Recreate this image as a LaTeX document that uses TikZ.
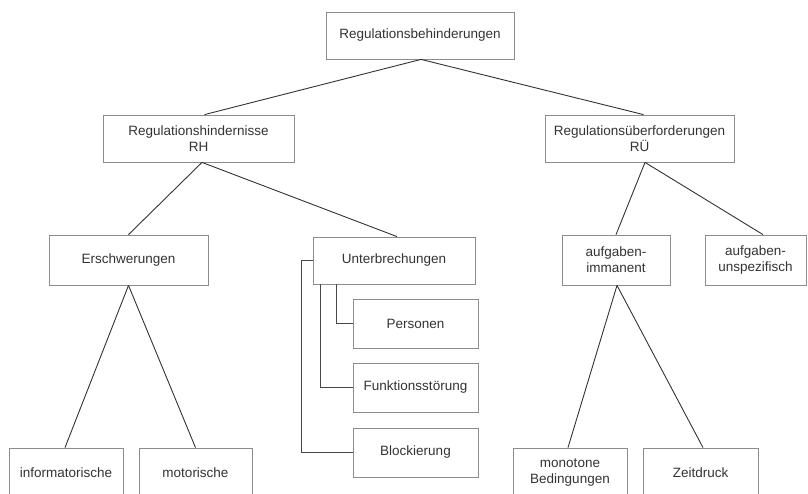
\documentclass[tikz,border=0pt]{standalone}
\usepackage{fontspec}
\setmainfont{Liberation Sans}
\definecolor{ink}{HTML}{333333}
\definecolor{frame}{HTML}{8C8C8C}
\begin{document}
\begin{tikzpicture}[x=1pt,y=-1pt,
  box/.style={draw=frame,line width=0.8pt,fill=white,text=ink,align=center,
    inner sep=0pt,minimum height=47pt,
    font=\fontsize{13.5}{16}\selectfont},
  link/.style={draw=ink,line width=0.9pt},
  tee/.style={draw=ink!90,line width=1pt}]
\useasboundingbox (0,0) rectangle (808,493);
\clip (0,0) rectangle (808,493);

% top level
\node[box,minimum width=188pt] (top) at (420,35.5) {Regulationsbehinderungen};

% second level
\node[box,minimum width=191pt] (rh) at (198.5,138.5) {Regulationshindernisse\\RH};
\node[box,minimum width=189pt] (ru) at (639.5,138.5) {Regulations\"uberforderungen\\R\"U};

% third level
\node[box,minimum width=159pt,minimum height=50pt] (ersch) at (128.5,260) {Erschwerungen};
\node[box,minimum width=162pt] (unter) at (394,260.5) {Unterbrechungen};
\node[box,minimum width=108pt,minimum height=50pt] (imm) at (616,260) {aufgaben-\\immanent};
\node[box,minimum width=101pt,minimum height=50pt] (unsp) at (755.5,260) {aufgaben-\\unspezifisch};

% kinds of interruption
\node[box,minimum width=125pt,minimum height=49pt] (pers) at (415.5,323.5) {Personen};
\node[box,minimum width=125pt,minimum height=49pt] (funk) at (415.5,387.5) {Funktionsst\"orung};
\node[box,minimum width=125pt,minimum height=49pt] (block) at (415.5,452.5) {Blockierung};

% bottom level
\node[box,minimum width=114pt,minimum height=50pt] (info) at (66,473) {informatorische};
\node[box,minimum width=113pt,minimum height=50pt] (motor) at (195.5,473) {motorische};
\node[box,minimum width=114pt,minimum height=50pt] (mono) at (570,473) {monotone\\Bedingungen};
\node[box,minimum width=115pt,minimum height=50pt] (zeit) at (700.5,473) {Zeitdruck};

% tree connectors
\draw[link] ([xshift=1]top.south) -- ([xshift=6]rh.north);
\draw[link] ([xshift=1]top.south) -- ([xshift=4]ru.north);
\draw[link] ([xshift=3.5]rh.south) -- (ersch.north);
\draw[link] ([xshift=3.5]rh.south) -- ([xshift=3]unter.north);
\draw[link] ([xshift=5.5]ru.south) -- (imm.north);
\draw[link] ([xshift=5.5]ru.south) -- ([xshift=7.5]unsp.north);
\draw[link] (ersch.south) -- ([xshift=-1]info.north);
\draw[link] (ersch.south) -- (motor.north);
\draw[link] ([xshift=1]imm.south) -- ([xshift=-2]mono.north);
\draw[link] ([xshift=1]imm.south) -- ([xshift=2.5]zeit.north);

% list connectors
\draw[tee] (unter.west) -- ++(-11,0) |- (block.west);
\draw[tee] ([xshift=-74]unter.south) |- (funk.west);
\draw[tee] ([xshift=-58]unter.south) |- (pers.west);
\end{tikzpicture}
\end{document}
